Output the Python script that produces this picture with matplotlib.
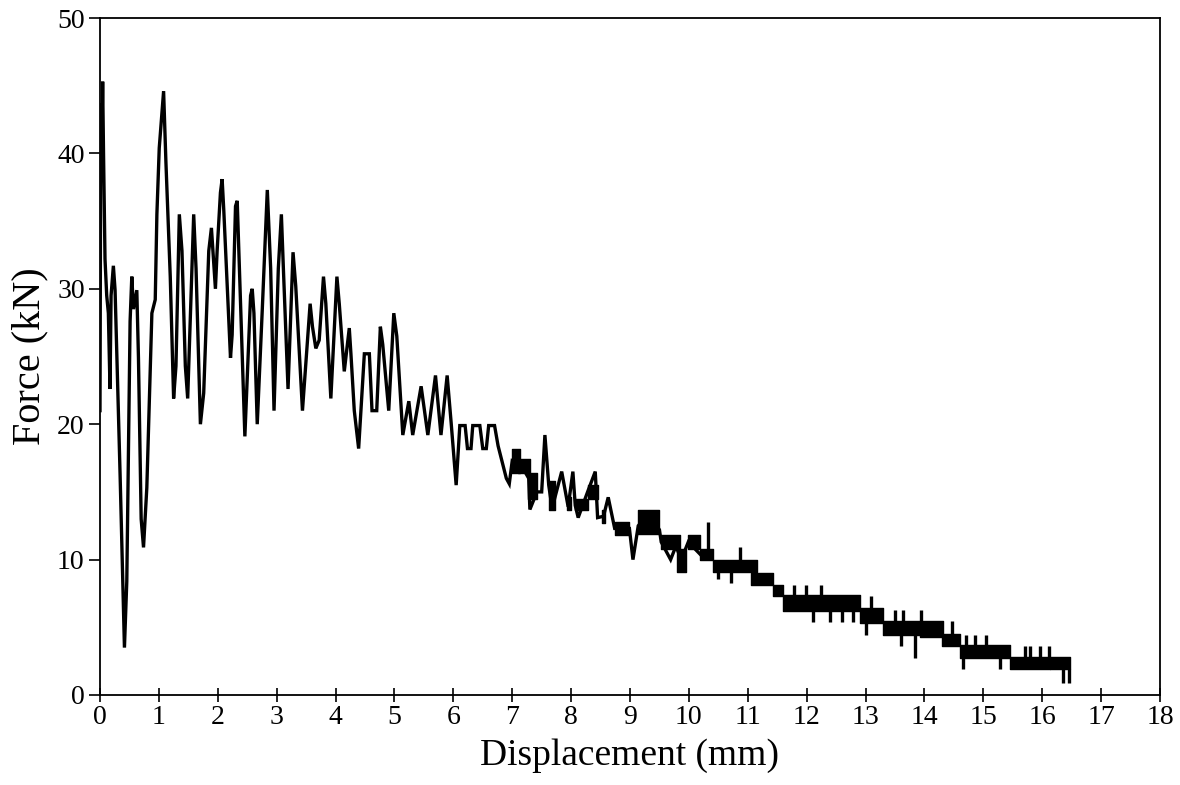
import matplotlib
matplotlib.use("Agg")
import matplotlib.pyplot as plt

# ---- data ----
disp = [0.000, 0.010, 0.020, 0.035, 0.045, 0.060, 0.085, 0.114, 0.142, 0.170,
        0.188, 0.227, 0.256, 0.341, 0.415, 0.455, 0.511, 0.540, 0.568, 0.625,
        0.653, 0.699, 0.739, 0.795, 0.852, 0.881, 0.938, 0.966, 1.006, 1.080,
        1.119, 1.193, 1.250, 1.290, 1.347, 1.392, 1.449, 1.489, 1.591, 1.631,
        1.705, 1.761, 1.847, 1.892, 1.960, 1.989, 2.045, 2.074, 2.102, 2.216,
        2.244, 2.301, 2.330, 2.460, 2.557, 2.585, 2.614, 2.670, 2.756, 2.841,
        2.898, 2.955, 3.028, 3.080, 3.114, 3.193, 3.278, 3.324, 3.438, 3.568,
        3.608, 3.665, 3.722, 3.795, 3.835, 3.920, 4.023, 4.063, 4.148, 4.233,
        4.261, 4.318, 4.392, 4.489, 4.574, 4.619, 4.699, 4.761, 4.801, 4.903,
        4.989, 5.040, 5.142, 5.244, 5.310, 5.453, 5.567, 5.697, 5.790, 5.895,
        5.963, 6.048, 6.110, 6.200, 6.240, 6.300, 6.330, 6.450, 6.500, 6.560,
        6.600, 6.700, 6.760, 6.900, 6.950, 7.000, 7.150, 7.280, 7.300, 7.420,
        7.500, 7.555, 7.620, 7.680, 7.720, 7.840, 7.950, 8.030, 8.070, 8.120,
        8.280, 8.410, 8.450, 8.550, 8.630, 8.740, 8.990, 9.050, 9.140, 9.320,
        9.500, 9.530, 9.690, 9.780, 9.870, 9.990, 10.190]
force = [21.0, 38.0, 43.7, 42.0, 45.3, 40.0, 32.2, 29.5, 28.2, 22.6,
         29.5, 31.7, 29.9, 16.3, 3.5, 8.4, 27.6, 30.9, 28.5, 29.9,
         24.9, 13.0, 10.9, 15.3, 23.9, 28.2, 29.2, 35.5, 40.4, 44.6,
         39.4, 30.9, 21.9, 24.3, 35.5, 32.8, 24.3, 21.9, 35.5, 31.5,
         20.0, 22.3, 32.8, 34.5, 30.0, 32.8, 37.1, 38.1, 35.8, 24.9,
         26.6, 36.1, 36.5, 19.1, 29.5, 30.0, 28.2, 20.0, 28.5, 37.3,
         31.5, 21.0, 31.5, 35.5, 31.5, 22.6, 32.7, 30.2, 21.0, 28.9,
         27.2, 25.6, 26.2, 30.9, 28.9, 21.9, 30.9, 28.9, 23.9, 27.1,
         25.2, 21.0, 18.2, 25.2, 25.2, 21.0, 21.0, 27.2, 25.9, 21.0,
         28.2, 26.5, 19.2, 21.7, 19.2, 22.8, 19.2, 23.6, 19.2, 23.6,
         20.1, 15.5, 19.9, 19.9, 18.2, 18.2, 19.9, 19.9, 18.2, 18.2,
         19.9, 19.9, 18.4, 16.0, 15.6, 17.3, 17.0, 16.0, 13.7, 15.0,
         15.0, 19.2, 15.5, 13.7, 14.5, 16.5, 13.9, 16.5, 14.0, 13.1,
         15.0, 16.5, 13.1, 13.2, 14.6, 12.3, 12.3, 10.0, 12.5, 13.4,
         12.2, 11.3, 10.0, 11.0, 10.0, 11.3, 10.4]

# quantised (flickering) part of the record: blocks between two adjacent levels
band_x0 = [7.00, 7.10, 7.27, 7.62, 7.93, 8.07, 8.28, 8.52, 8.74, 9.14,
           9.53, 9.79, 9.99, 10.19, 10.41, 11.05, 11.43, 11.60, 12.90, 13.30,
           13.92, 14.30, 14.60, 15.45, 16.13]
band_x1 = [7.13, 7.30, 7.42, 7.72, 8.00, 8.28, 8.45, 8.58, 8.99, 9.50,
           9.85, 9.95, 10.19, 10.41, 11.15, 11.43, 11.60, 12.90, 13.30, 13.92,
           14.32, 14.60, 15.45, 16.13, 16.47]
band_lo = [16.4, 16.4, 14.5, 13.7, 13.7, 13.7, 14.5, 12.7, 11.8, 11.9,
           10.8, 9.1, 10.8, 10.0, 9.1, 8.1, 7.3, 6.2, 5.3, 4.4,
           4.3, 3.6, 2.7, 1.9, 1.9]
band_hi = [18.2, 17.4, 16.4, 15.8, 14.6, 14.5, 15.5, 13.7, 12.8, 13.7,
           11.8, 10.8, 11.8, 10.8, 10.0, 9.0, 8.1, 7.4, 6.4, 5.5,
           5.5, 4.5, 3.7, 2.8, 2.8]

spike_x = [10.33, 10.50, 10.72, 10.87, 11.79, 11.99, 12.25, 12.10, 12.40, 12.60,
           12.79, 13.00, 13.10, 13.50, 13.64, 13.60, 13.84, 13.95, 14.46, 14.66,
           14.70, 14.86, 15.05, 15.28, 15.70, 15.80, 15.97, 16.11, 16.36, 16.45]
spike_lo = [10.8, 8.6, 8.3, 10.0, 7.3, 7.3, 7.3, 5.4, 5.4, 5.4,
            5.4, 4.4, 6.3, 5.4, 5.4, 3.6, 2.7, 5.4, 4.45, 1.9,
            3.6, 3.6, 3.6, 1.9, 2.75, 2.75, 2.75, 2.75, 0.9, 0.9]
spike_hi = [12.8, 9.1, 9.1, 10.9, 8.1, 8.1, 8.1, 6.3, 6.3, 6.3,
            6.3, 5.4, 7.3, 6.3, 6.3, 4.4, 4.4, 6.3, 5.45, 2.75,
            4.45, 4.45, 4.45, 2.75, 3.6, 3.6, 3.6, 3.6, 1.9, 1.9]

x_ticks = list(range(0, 19))
y_ticks = [0, 10, 20, 30, 40, 50]

# ---- figure ----
plt.rcParams['font.family'] = ['Liberation Serif', 'DejaVu Serif']
fig = plt.figure(figsize=(11.8, 7.85), dpi=100)
ax = fig.add_axes([100/1180, 90/785, 1060/1180, 677/785])

ax.plot(disp, force, color='black', lw=2.4, solid_joinstyle='miter')
for x0, x1, lo, hi in zip(band_x0, band_x1, band_lo, band_hi):
    ax.fill_between([x0, x1], [lo, lo], [hi, hi], color='black', lw=1.0, edgecolor='black')
ax.vlines(spike_x, spike_lo, spike_hi, color='black', lw=2.4)

ax.set_xlim(0, 18)
ax.set_ylim(0, 50)
ax.set_xticks(x_ticks)
ax.set_yticks(y_ticks)
ax.tick_params(axis='x', direction='inout', length=10, width=1.2, labelsize=20, pad=2)
ax.tick_params(axis='y', direction='out', length=8, width=1.2, labelsize=20, pad=3)
for s in ax.spines.values():
    s.set_linewidth(1.3)

ax.set_xlabel('Displacement (mm)', fontsize=27, labelpad=6)
ax.set_ylabel('Force (kN)', fontsize=29, labelpad=6)

fig.savefig('out.png', dpi=100)
